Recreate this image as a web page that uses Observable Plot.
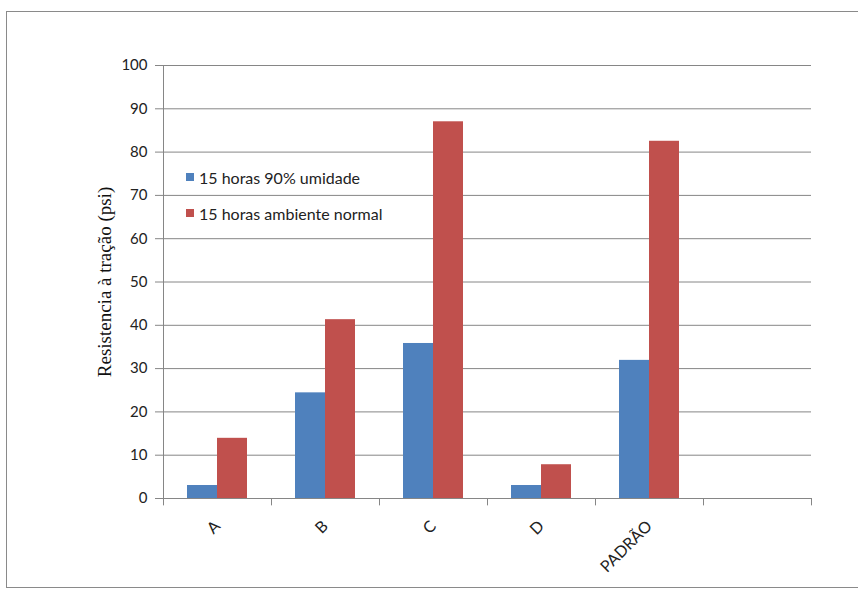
<!DOCTYPE html>
<html>
<head>
<meta charset="utf-8">
<script src="https://cdn.jsdelivr.net/npm/d3@7"></script>
<script src="https://cdn.jsdelivr.net/npm/@observablehq/plot@0.6"></script>
<style>
  html, body { margin: 0; padding: 0; background: #fff; }
  #wrap { position: relative; width: 858px; height: 589px; overflow: hidden; }
  #border { position: absolute; left: 6px; top: 11px; width: 870px; height: 577px; border: 1.5px solid #8a8a8a; box-sizing: border-box; pointer-events: none; }
  #legend { position: absolute; left: 186px; top: 159px; font-family: Lato, "Open Sans", sans-serif; font-size: 16px; color: #222; }
  #legend div { display: flex; align-items: center; height: 36px; }
  #legend span.sw { display: inline-block; width: 8px; height: 8px; margin-right: 5px; }
</style>
</head>
<body>
<div id="wrap">
  <div id="chart"></div>
  <div id="border"></div>
  <div id="legend"></div>
</div>
<script>
const categories = ["A", "B", "C", "D", "PADRÃO", " "];
const seriesNames = ["15 horas 90% umidade", "15 horas ambiente normal"];
const umidade = [3.0, 24.4, 35.8, 3.0, 31.9];
const ambiente = [13.9, 41.3, 87.0, 7.8, 82.5];
const colors = ["#4F81BD", "#C0504D"];
const yTicks = [0, 10, 20, 30, 40, 50, 60, 70, 80, 90, 100];

const rows = [];
categories.slice(0, 5).forEach((c, i) => {
  rows.push({cat: c, series: seriesNames[0], value: umidade[i]});
  rows.push({cat: c, series: seriesNames[1], value: ambiente[i]});
});

const gray = "#868686";
const font = "Lato, 'Open Sans', sans-serif";

const chart = Plot.plot({
  width: 858,
  height: 589,
  marginLeft: 163,
  marginRight: 47,
  marginTop: 65,
  marginBottom: 91,
  style: {fontFamily: font, background: "transparent", overflow: "visible"},
  x: {domain: categories, padding: 0},
  y: {domain: [0, 100]},
  marks: [
    Plot.gridY(yTicks, {stroke: gray, strokeOpacity: 1, strokeWidth: 1}),
    Plot.barY(rows.filter(d => d.series === seriesNames[0]), {x: "cat", y: "value", fill: colors[0], insetLeft: 24, insetRight: 54}),
    Plot.barY(rows.filter(d => d.series === seriesNames[1]), {x: "cat", y: "value", fill: colors[1], insetLeft: 54, insetRight: 24}),
    Plot.ruleY([0], {stroke: gray, strokeWidth: 1}),
    Plot.frame({anchor: "left", stroke: gray, strokeWidth: 1}),
    Plot.ruleX(categories, {x: d => d, dx: -54, y1: 0, y2: -1.7, stroke: gray}),
    Plot.ruleX(categories.slice(-1), {x: d => d, dx: 54, y1: 0, y2: -1.7, stroke: gray}),
    Plot.axisY(yTicks, {tickSize: 8, tickPadding: 8, stroke: gray, fontSize: 15, fill: "#222", label: null}),
    Plot.axisY({ticks: [], tickSize: 0, label: "Resistencia à tração (psi)", labelAnchor: "center", labelArrow: "none", labelOffset: 66, fontFamily: "'Liberation Serif', 'DejaVu Serif', serif", fontSize: 19, fill: "#111"}),
    Plot.axisX({tickSize: 0, tickRotate: -45, tickPadding: 25, fontSize: 16, fill: "#222", label: null})
  ]
});
document.getElementById("chart").appendChild(chart);

const legend = document.getElementById("legend");
seriesNames.forEach((name, i) => {
  const row = document.createElement("div");
  const sw = document.createElement("span");
  sw.className = "sw";
  sw.style.background = colors[i];
  row.appendChild(sw);
  row.appendChild(document.createTextNode(name));
  legend.appendChild(row);
});
</script>
</body>
</html>
